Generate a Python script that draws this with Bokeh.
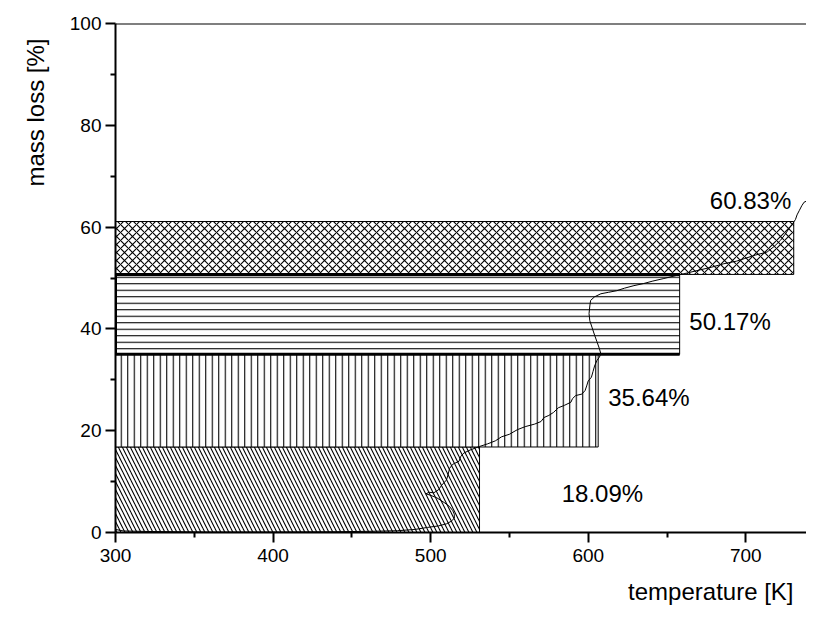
from bokeh.plotting import figure
from bokeh.models import FixedTicker, Range1d, Span, ColumnDataSource, Title
from bokeh.core.properties import value
from bokeh.embed import file_html
from bokeh.resources import INLINE

# --- data ---
stage_labels = ["18.09%", "35.64%", "50.17%", "60.83%"]
bar_bottom = [0.0, 16.8, 35.0, 50.7]
bar_top = [16.8, 35.0, 50.7, 61.1]
bar_end_T = [531.0, 606.3, 658.0, 730.4]
bar_start_T = [300.0, 300.0, 300.0, 300.0]
bar_hatch = ["\\", "|", "-", "x"]
bar_hatch_scale = [8.0, 6.5, 6.5, 8.0]

label_T = [609.0, 638.5, 690.0, 703.0]
label_ml = [7.6, 26.5, 41.5, 65.2]

curve_T = [300, 305, 320, 360, 400, 440, 465, 479, 490, 498, 505, 510, 513, 515, 515, 514, 512,
           509, 504, 500, 497, 499, 502, 505, 507, 510, 511, 512, 514, 518, 519, 521, 525, 531,
           536, 541, 545, 550, 555, 560, 566, 570, 572, 575, 578, 581, 585, 589, 590, 592, 596,
           598, 599, 600, 602, 603, 604, 605.5, 607, 608, 607, 605.5, 604, 602.5, 601, 600.5,
           601, 601.5, 604, 608, 613, 618, 623, 629, 635, 641, 648, 656, 663, 671, 678, 686,
           694, 699, 706, 713.5, 718, 722, 725, 728, 730, 731.5, 732.5, 734, 735.5, 737, 740,
           743, 746]
curve_ml = [0.6, 0.3, 0.2, 0.1, 0.1, 0.15, 0.25, 0.35, 0.6, 1.0, 1.3, 1.7, 2.2, 2.8, 3.6, 4.3, 5.1,
            5.8, 6.8, 7.3, 7.6, 7.9, 7.8, 8.4, 9.3, 10.3, 11.3, 12.6, 13.4, 14.0, 14.9, 15.6, 16.2, 16.9,
            17.4, 18.0, 18.8, 19.3, 20.2, 20.8, 21.3, 21.8, 22.6, 23.0, 23.6, 24.5, 25.0, 25.6, 26.3, 26.9, 27.2,
            27.9, 28.8, 29.8, 30.5, 31.6, 32.7, 33.8, 34.4, 35.1, 36.2, 37.5, 38.8, 40.2, 41.6, 43.0,
            44.5, 45.6, 46.3, 46.9, 47.2, 47.5, 48.0, 48.5, 48.9, 49.4, 49.9, 50.5, 51.0, 51.6, 52.1, 52.8,
            53.3, 53.8, 54.5, 55.1, 56.2, 57.4, 58.6, 60.0, 60.8, 61.5, 62.4, 63.3, 64.2, 64.9, 65.3,
            65.7, 66.2]

x_ticks = [300, 400, 500, 600, 700]
x_minor = [350, 450, 550, 650, 750]
y_ticks = [0, 20, 40, 60, 80, 100]
y_minor = [10, 30, 50, 70, 90]

x_title = "temperature [K]"
y_title = "mass loss [%]"

FONT = "Liberation Sans"

p = figure(width=806, height=616, output_backend="svg", toolbar_location=None,
           x_range=Range1d(300, 738.5), y_range=Range1d(0, 100))
p.min_border_left = 115
p.min_border_right = 0
p.min_border_top = 23
p.min_border_bottom = 84
p.outline_line_color = None
p.xgrid.visible = False
p.ygrid.visible = False
p.background_fill_color = "white"
p.border_fill_color = "white"

# stacked stage bars
for i in range(len(stage_labels)):
    p.quad(left=[bar_start_T[i]], right=[bar_end_T[i]], bottom=[bar_bottom[i]], top=[bar_top[i]],
           fill_color="white", line_color="black", line_width=1,
           hatch_pattern=bar_hatch[i], hatch_color="black", hatch_scale=bar_hatch_scale[i],
           hatch_weight=1.1)

# heavy frame on the third stage (left, top, bottom)
k = 2
p.multi_line(xs=[[bar_end_T[k], bar_start_T[k], bar_start_T[k], bar_end_T[k]]],
             ys=[[bar_top[k], bar_top[k], bar_bottom[k], bar_bottom[k]]],
             line_color="black", line_width=3)

# TG curve
p.line(curve_T, curve_ml, line_color="black", line_width=1)

# percentage labels
src = ColumnDataSource(dict(x=label_T, y=label_ml, t=stage_labels))
p.text(x="x", y="y", text="t", source=src, text_align="center", text_baseline="middle",
       text_font=value(FONT), text_font_size="24px", text_color="black")

# top frame line
p.add_layout(Span(location=100, dimension="width", line_color="black", line_width=2))

for ax in (p.xaxis[0], p.yaxis[0]):
    ax.axis_line_width = 2
    ax.major_tick_line_width = 2
    ax.minor_tick_line_width = 2
    ax.major_tick_in = 0
    ax.major_tick_out = 10
    ax.minor_tick_in = 0
    ax.minor_tick_out = 5
    ax.major_label_text_font = FONT
    ax.major_label_text_font_size = "19px"
    ax.major_label_text_color = "black"

p.xaxis[0].ticker = FixedTicker(ticks=x_ticks, minor_ticks=x_minor)
p.yaxis[0].ticker = FixedTicker(ticks=y_ticks, minor_ticks=y_minor)
p.xaxis[0].major_label_standoff = 6
p.yaxis[0].major_label_standoff = 4

# axis titles: x title at the right end below, y title near the top on the left
p.add_layout(Title(text=x_title, align="right", offset=13, standoff=22,
                   text_font=FONT, text_font_size="24px", text_font_style="normal",
                   text_color="black"), "below")
p.add_layout(Title(text=y_title, align="right", offset=15, standoff=35,
                   text_font=FONT, text_font_size="24px", text_font_style="normal",
                   text_color="black"), "left")

open("out.html", "w").write(file_html(p, INLINE))
